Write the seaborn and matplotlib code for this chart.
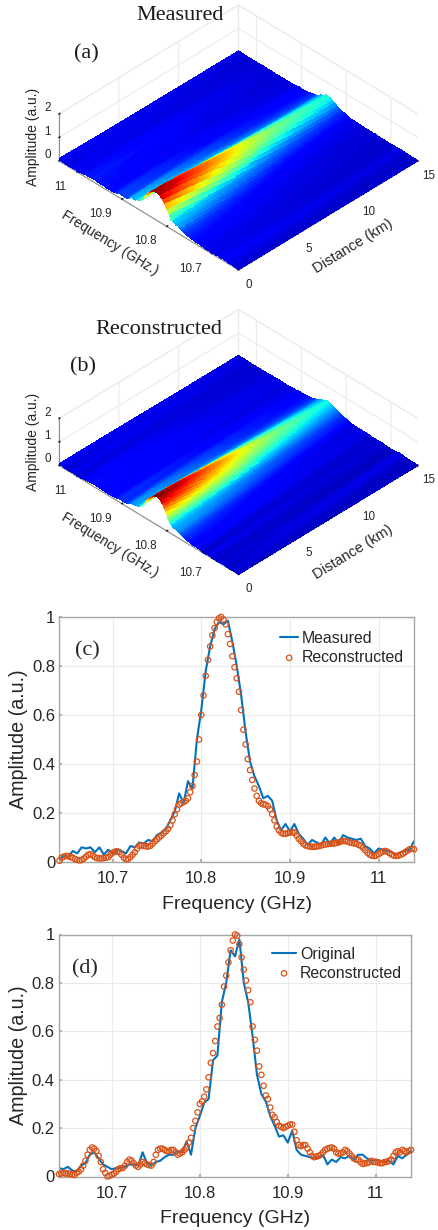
import numpy as np
import pandas as pd
import seaborn as sns
import matplotlib.pyplot as plt
from mpl_toolkits.mplot3d import proj3d

# (c) 10.64 -> 11.04 GHz
c_line = [.012, .025, .022, .045, .035, .060, .055, .060, .040, .060,
          .030, .050, .035, .050, .045, .035, .065, .060, .080, .075,
          .090, .085, .110, .120, .135, .170, .205, .280, .240, .330,
          .300, .500, .620, .780, .880, .950, .980, .970, .985, .900,
          .800, .680, .530, .410, .350, .310, .260, .270, .250, .170,
          .130, .155, .125, .155, .115, .095, .070, .090, .080, .070,
          .100, .075, .100, .075, .110, .100, .095, .090, .095, .065,
          .055, .035, .055, .050, .045, .040, .030, .040, .045, .050,
          .085]
c_rec = [.005, .018, .022, .025, .024, .020, .018, .012, .008, .007,
         .008, .014, .022, .030, .032, .026, .020, .016, .015, .015,
         .016, .018, .020, .030, .038, .042, .044, .040, .030, .018,
         .011, .012, .020, .030, .040, .055, .066, .068, .066, .064,
         .063, .066, .075, .085, .092, .100, .108, .118, .125, .135,
         .150, .170, .195, .215, .235, .240, .245, .250, .260, .285,
         .310, .355, .410, .500, .600, .680, .760, .825, .880, .925,
         .955, .980, .995, 1.00, .990, .970, .930, .890, .840, .795,
         .750, .695, .620, .540, .480, .420, .375, .335, .300, .270,
         .250, .240, .235, .235, .228, .215, .195, .170, .145, .130,
         .120, .115, .115, .118, .120, .122, .120, .108, .095, .085,
         .075, .068, .065, .063, .062, .062, .063, .065, .067, .070,
         .072, .073, .074, .075, .076, .078, .080, .084, .086, .085,
         .084, .080, .078, .076, .074, .070, .066, .058, .048, .038,
         .030, .026, .024, .026, .032, .038, .043, .045, .042, .036,
         .030, .026, .025, .026, .030, .034, .040, .046, .052, .054,
         .052]

# (d)
d_line = [.035, .030, .040, .025, .020, .045, .055, .090, .100, .075,
          .050, .040, .030, .035, .035, .040, .050, .050, .045, .100,
          .055, .045, .060, .065, .080, .090, .090, .105, .100, .145,
          .090, .200, .250, .305, .320, .480, .500, .720, .800, .935,
          .910, .980, .800, .720, .580, .420, .340, .310, .250, .210,
          .165, .170, .140, .190, .110, .090, .085, .080, .075, .080,
          .090, .050, .070, .060, .080, .075, .085, .070, .090, .090,
          .075, .065, .070, .065, .060, .065, .050, .085, .075, .090,
          .105]
d_rec = [.010, .012, .015, .012, .013, .010, .008, .006, .015, .020,
         .030, .045, .065, .090, .110, .120, .115, .105, .085, .060,
         .030, .015, .000, .003, .008, .012, .020, .030, .035, .035,
         .045, .060, .070, .065, .055, .045, .040, .050, .060, .055,
         .050, .047, .045, .060, .090, .110, .115, .115, .110, .105,
         .105, .110, .110, .100, .090, .095, .100, .110, .120, .140,
         .160, .200, .230, .265, .300, .310, .330, .360, .410, .470,
         .510, .560, .620, .655, .710, .785, .830, .885, .935, .975,
         1.00, .995, .960, .905, .855, .810, .770, .720, .620, .565,
         .520, .455, .420, .375, .335, .320, .285, .255, .245, .225,
         .210, .205, .200, .205, .210, .215, .215, .185, .150, .130,
         .125, .130, .130, .115, .100, .085, .080, .082, .085, .090,
         .100, .110, .115, .118, .120, .115, .100, .095, .095, .100,
         .110, .105, .095, .085, .075, .070, .070, .060, .052, .055,
         .055, .060, .065, .060, .060, .058, .055, .055, .060, .060,
         .065, .070, .085, .100, .105, .100, .110, .105, .100, .105,
         .110]

# surfaces: one row each 0.25 km, ridge position and height read from (a) and (b)
ridge_freq = [10.8230, 10.8233, 10.8236, 10.8240, 10.8243, 10.8246, 10.8249, 10.8252,
              10.8255, 10.8259, 10.8262, 10.8265, 10.8268, 10.8271, 10.8274, 10.8278,
              10.8281, 10.8284, 10.8287, 10.8290, 10.8293, 10.8297, 10.8300, 10.8303,
              10.8306, 10.8309, 10.8312, 10.8316, 10.8319, 10.8322, 10.8325, 10.8328,
              10.8331, 10.8335, 10.8338, 10.8341, 10.8344, 10.8347, 10.8350, 10.8354,
              10.8357, 10.8360, 10.8363, 10.8366, 10.8369, 10.8373, 10.8376, 10.8379,
              10.8382, 10.8385, 10.8388, 10.8392, 10.8395, 10.8398, 10.8401, 10.8404,
              10.8407, 10.8411, 10.8414, 10.8417, 10.8420]
ridge_amp_a = [1.20, 1.19, 1.185, 1.18, 1.17, 1.16, 1.145, 1.13, 1.12, 1.105, 1.09, 1.075,
               1.06, 1.04, 1.025, 1.01, .99, .97, .955, .94, .92, .905, .89, .875,
               .86, .84, .825, .81, .79, .77, .755, .74, .72, .705, .69, .675,
               .66, .645, .63, .615, .60, .59, .58, .57, .56, .55, .54, .53,
               .52, .51, .505, .50, .49, .48, .475, .47, .46, .455, .45, .445, .44]
ridge_amp_b = [1.20, 1.195, 1.19, 1.18, 1.17, 1.16, 1.15, 1.14, 1.125, 1.11, 1.095, 1.08,
               1.06, 1.045, 1.03, 1.01, .99, .975, .955, .94, .92, .90, .885, .865,
               .845, .83, .81, .79, .77, .755, .74, .72, .70, .685, .67, .655,
               .64, .625, .61, .595, .58, .57, .555, .545, .535, .525, .515, .505,
               .495, .485, .475, .465, .455, .445, .44, .43, .42, .415, .41, .405, .40]

freq_ticks = [10.7, 10.8, 10.9, 11]
freq_ticklabels = ['10.7', '10.8', '10.9', '11']
dist_ticks = [0, 5, 10, 15]
amp_ticks = [0, 1, 2]
amp_ticklabels = ['0', '1', '2']
y_ticks = [0, .2, .4, .6, .8, 1]
y_ticklabels = ['0', '0.2', '0.4', '0.6', '0.8', '1']

FMIN, FMAX = 10.64, 11.04
BLUE = '#0072BD'
ORANGE = '#D95319'
DARK = '#262626'
W, H = 439, 1230

sns.set_theme(style='whitegrid', rc={'grid.color': '#ebebeb', 'grid.linewidth': 0.8,
                                     'axes.edgecolor': '#a6a6a6', 'axes.linewidth': 1.0,
                                     'text.color': DARK, 'axes.labelcolor': DARK,
                                     'xtick.color': DARK, 'ytick.color': DARK})
plt.rcParams['font.family'] = ['Liberation Sans', 'DejaVu Sans']

fig = plt.figure(figsize=(W / 100, H / 100), dpi=100)


def build_surface(near, far, amp):
    freq = np.linspace(FMIN, FMAX, len(near))
    dist = np.linspace(0, 15, len(amp))
    rows = []
    for d, pk, a in zip(dist, ridge_freq, amp):
        w = d / 15
        a_near = np.interp(freq - (pk - ridge_freq[0]), freq, near)
        a_far = np.interp(freq - (pk - ridge_freq[-1]), freq, far)
        rows.append(a * ((1 - w) * a_near + w * a_far))
    return dist, freq, np.array(rows)


def box_px(ax):
    M = ax.get_proj()
    pts = {'front': (0, FMIN), 'right': (15, FMIN), 'left': (0, FMAX), 'back': (15, FMAX)}
    out = {}
    for k, (x, y) in pts.items():
        px, py, _ = proj3d.proj_transform(x, y, 0, M)
        out[k] = ax.transData.transform((px, py))
    return out


def surface_panel(near, far, amp, left, right, back_y, front_y, labels_y):
    size = 420
    ax = fig.add_axes([0, 0, size / W, size / H], projection='3d', proj_type='ortho')
    dist, freq, z = build_surface(near, far, amp)
    D, F = np.meshgrid(dist, freq, indexing='ij')
    ax.plot_surface(D, F, z, cmap='jet', vmin=-0.07, vmax=1.2, rstride=1, cstride=1,
                    linewidth=0, antialiased=False, shade=False)
    ax.set_xlim(0, 15, view_margin=0)
    ax.set_ylim(FMIN, FMAX, view_margin=0)
    ax.set_zlim(0, 2, view_margin=0)
    ax.set_xticks(dist_ticks)
    ax.set_yticks(freq_ticks)
    ax.set_yticklabels(freq_ticklabels, ha='right')
    ax.set_zticks(amp_ticks)
    ax.set_zticklabels(amp_ticklabels, va='bottom')
    ax.tick_params(labelsize=8.4, pad=1, colors=DARK)
    ax.tick_params(axis='z', pad=-3)
    for a in (ax.xaxis, ax.yaxis, ax.zaxis):
        a.pane.set_facecolor((1, 1, 1, 0))
        a.pane.set_edgecolor('#ebebeb')
        a.line.set_color('#8c8c8c')
        a.line.set_linewidth(0.8)
        a._axinfo['tick']['inward_factor'] = 0
        a._axinfo['tick']['outward_factor'] = 0.06
    ax.patch.set_alpha(0)
    ax.view_init(elev=37.4, azim=-135)
    asp = (1, 1, 0.233)
    ax.set_box_aspect(asp, zoom=1)
    # fit the floor of the box onto where it sits in the reference
    fig.canvas.draw()
    c = box_px(ax)
    ax.set_box_aspect(asp, zoom=(right - left) / (c['right'][0] - c['left'][0]))
    fig.canvas.draw()
    c = box_px(ax)
    cx = (c['right'][0] + c['left'][0]) / 2
    cy = (c['front'][1] + c['back'][1]) / 2
    tx = (left + right) / 2
    ty = H - (front_y + back_y) / 2
    ax.set_position([(tx - cx) / W, (ty - cy) / H, size / W, size / H])
    # axis titles sit along the edges
    fig.text(353 / W, 1 - labels_y[0] / H, 'Distance (km)', rotation=31.6, fontsize=10.5,
             ha='center', va='center', rotation_mode='anchor', color=DARK)
    fig.text(110 / W, 1 - labels_y[1] / H, 'Frequency (GHz.)', rotation=-31.6, fontsize=10,
             ha='center', va='center', rotation_mode='anchor', color=DARK)
    fig.text(33 / W, 1 - labels_y[2] / H, 'Amplitude (a.u.)', rotation=90, fontsize=10,
             ha='center', va='center', rotation_mode='anchor', color=DARK)
    return ax


def line_panel(line, rec, names, box, letter, handle, anchor):
    l, t, r, b = box
    ax = fig.add_axes([l / W, 1 - b / H, (r - l) / W, (b - t) / H])
    sns.lineplot(x=np.linspace(FMIN, FMAX, len(line)), y=line, color=BLUE, linewidth=1.5,
                 label=names[0], ax=ax)
    sns.scatterplot(x=np.linspace(FMIN, FMAX, len(rec)), y=rec, marker='o', s=15,
                    facecolor='none', edgecolor=ORANGE, linewidth=0.9,
                    label=names[1], ax=ax, zorder=3, clip_on=False)
    ax.set_xlim(FMIN, FMAX)
    ax.set_ylim(0, 1)
    ax.set_xticks(freq_ticks)
    ax.set_xticklabels(freq_ticklabels)
    ax.set_yticks(y_ticks)
    ax.set_yticklabels(y_ticklabels)
    ax.tick_params(labelsize=12, length=2.5, direction='in', color='#a6a6a6', bottom=True, left=True)
    ax.tick_params(axis='x', pad=6.5)
    ax.tick_params(axis='y', pad=3)
    ax.set_xlabel('Frequency (GHz)', fontsize=14, labelpad=7)
    ax.set_ylabel('Amplitude (a.u.)', fontsize=14.2, labelpad=3)
    ax.legend(loc='upper right', bbox_to_anchor=anchor, frameon=False, fontsize=11.4,
              handlelength=handle, handletextpad=0.25, labelspacing=0.25, borderaxespad=0.3)
    ax.text((letter[0] - l) / (r - l), (b - letter[1]) / (b - t), letter[2],
            transform=ax.transAxes, ha='center', va='center', fontsize=16,
            family='Liberation Serif', color=DARK)
    return ax


surface_panel(c_line, d_line, ridge_amp_a, 59, 418, 52, 270, (246, 243, 137))
surface_panel(c_rec, d_rec, ridge_amp_b, 59, 418, 356, 575, (552, 545, 442))
line_panel(c_line, c_rec, ['Measured', 'Reconstructed'], (59.5, 617, 414, 862), (87, 651, '(c)'),
           1.15, (1.004, 0.988))
line_panel(d_line, d_rec, ['Original', 'Reconstructed'], (59, 934.5, 411, 1176.5), (85, 969, '(d)'),
           1.5, (1.006, 0.996))

for x, y, s, size in [(180, 16, 'Measured', 16), (86, 54, '(a)', 16),
                      (159, 329, 'Reconstructed', 16), (83, 367, '(b)', 16)]:
    fig.text(x / W, 1 - y / H, s, ha='center', va='center', fontsize=size,
             family='Liberation Serif', color='#1a1a1a')

fig.savefig('out.png', dpi=100)
